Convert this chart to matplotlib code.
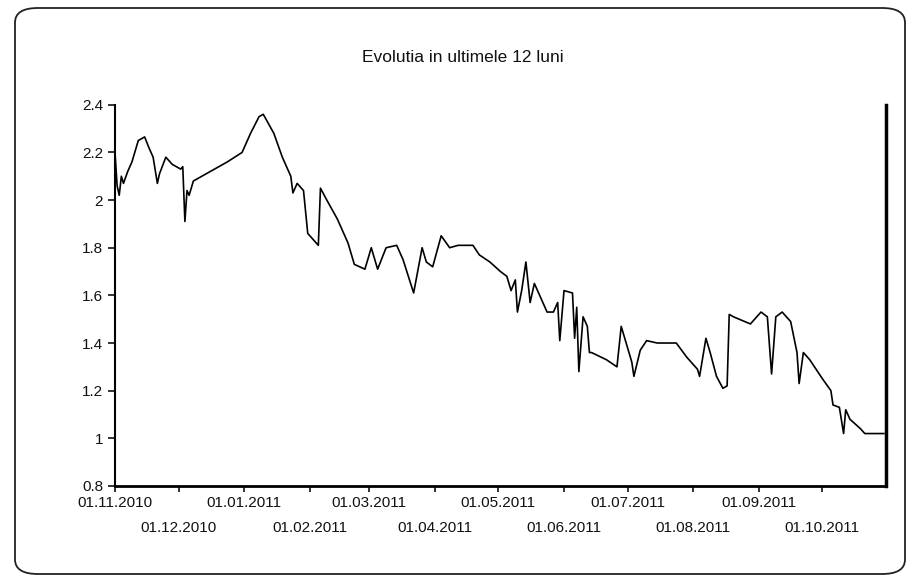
import matplotlib
matplotlib.use("Agg")
import matplotlib.pyplot as plt
from matplotlib.patches import FancyBboxPatch
import pandas as pd

plt.rcParams['font.family'] = ['Liberation Sans', 'DejaVu Sans']

# values
dates = [
    "2010-11-01", "2010-11-02", "2010-11-03", "2010-11-04", "2010-11-05",
    "2010-11-07", "2010-11-09", "2010-11-12", "2010-11-15", "2010-11-17",
    "2010-11-19", "2010-11-21", "2010-11-22", "2010-11-25", "2010-11-28",
    "2010-12-02", "2010-12-03", "2010-12-04", "2010-12-05", "2010-12-06",
    "2010-12-08", "2010-12-16", "2010-12-24", "2010-12-31", "2011-01-04",
    "2011-01-08", "2011-01-10", "2011-01-15", "2011-01-19", "2011-01-23",
    "2011-01-24", "2011-01-26", "2011-01-29", "2011-01-31", "2011-02-05",
    "2011-02-06", "2011-02-09", "2011-02-14", "2011-02-19", "2011-02-22",
    "2011-02-27", "2011-03-02", "2011-03-05", "2011-03-09", "2011-03-14",
    "2011-03-17", "2011-03-22", "2011-03-26", "2011-03-28", "2011-03-31",
    "2011-04-04", "2011-04-08", "2011-04-12", "2011-04-19", "2011-04-22",
    "2011-04-27", "2011-05-02", "2011-05-05", "2011-05-07", "2011-05-09",
    "2011-05-10", "2011-05-12", "2011-05-14", "2011-05-16", "2011-05-18",
    "2011-05-24", "2011-05-27", "2011-05-29", "2011-05-30", "2011-06-01",
    "2011-06-05", "2011-06-06", "2011-06-07", "2011-06-08", "2011-06-10",
    "2011-06-12", "2011-06-13", "2011-06-14", "2011-06-21", "2011-06-26",
    "2011-06-28", "2011-07-01", "2011-07-03", "2011-07-04", "2011-07-07",
    "2011-07-10", "2011-07-15", "2011-07-24", "2011-07-29", "2011-08-03",
    "2011-08-04", "2011-08-07", "2011-08-09", "2011-08-12", "2011-08-15",
    "2011-08-17", "2011-08-18", "2011-08-20", "2011-08-28", "2011-08-30",
    "2011-09-02", "2011-09-05", "2011-09-07", "2011-09-09", "2011-09-12",
    "2011-09-16", "2011-09-19", "2011-09-20", "2011-09-22", "2011-09-25",
    "2011-10-01", "2011-10-05", "2011-10-06", "2011-10-09", "2011-10-11",
    "2011-10-12", "2011-10-14", "2011-10-19", "2011-10-21", "2011-10-25",
    "2011-10-30",
]
values = [
    2.20, 2.06, 2.02, 2.10, 2.07,
    2.12, 2.16, 2.25, 2.265, 2.22,
    2.18, 2.07, 2.11, 2.18, 2.15,
    2.13, 2.14, 1.91, 2.04, 2.02,
    2.08, 2.12, 2.16, 2.20, 2.28,
    2.35, 2.36, 2.28, 2.18, 2.10,
    2.03, 2.07, 2.04, 1.86, 1.81,
    2.05, 2.00, 1.92, 1.82, 1.73,
    1.71, 1.80, 1.71, 1.80, 1.81,
    1.75, 1.61, 1.80, 1.74, 1.72,
    1.85, 1.80, 1.81, 1.81, 1.77,
    1.74, 1.70, 1.68, 1.62, 1.665,
    1.53, 1.62, 1.74, 1.57, 1.65,
    1.53, 1.53, 1.57, 1.41, 1.62,
    1.61, 1.42, 1.55, 1.28, 1.51,
    1.47, 1.36, 1.36, 1.33, 1.30,
    1.47, 1.38, 1.32, 1.26, 1.37,
    1.41, 1.40, 1.40, 1.34, 1.29,
    1.26, 1.42, 1.36, 1.26, 1.21,
    1.22, 1.52, 1.51, 1.48, 1.50,
    1.53, 1.51, 1.27, 1.51, 1.53,
    1.49, 1.36, 1.23, 1.36, 1.33,
    1.25, 1.20, 1.14, 1.13, 1.02,
    1.12, 1.08, 1.04, 1.02, 1.02,
    1.02,
]

month_ticks = pd.date_range("2010-11-01", "2011-10-01", freq="MS")
month_labels = [d.strftime("%d.%m.%Y") for d in month_ticks]
y_ticks = [0.8, 1.0, 1.2, 1.4, 1.6, 1.8, 2.0, 2.2, 2.4]
y_labels = ["0.8", "1", "1.2", "1.4", "1.6", "1.8", "2", "2.2", "2.4"]

x = pd.to_datetime(dates)

fig = plt.figure(figsize=(9.2, 5.82), dpi=100)

# rounded frame around the whole chart
frame = FancyBboxPatch((15 / 920, 8 / 582), 890 / 920, 566 / 582,
                       boxstyle="round,pad=0,rounding_size=0.025",
                       transform=fig.transFigure, fill=False,
                       edgecolor="#222222", linewidth=1.3)
fig.patches.append(frame)

ax = fig.add_axes([0.125, 0.165, 0.838, 0.655])
ax.plot(x, values, color="black", linewidth=1.2)

ax.set_xlim(pd.Timestamp("2010-11-01"), pd.Timestamp("2011-10-31"))
ax.set_ylim(0.8, 2.4)
ax.set_yticks(y_ticks)
ax.set_yticklabels(y_labels)

ax.set_xticks(month_ticks)
ax.set_xticklabels(month_labels)

ax.tick_params(axis="both", labelsize=11, colors="#111111", length=5, width=1.2)
ax.tick_params(axis="x", length=4, pad=3)

# every second month label goes on a lower row
for i, t in enumerate(ax.xaxis.get_major_ticks()):
    if i % 2 == 1:
        t.set_pad(21)

ax.spines["top"].set_visible(False)
ax.spines["left"].set_linewidth(1.5)
ax.spines["bottom"].set_linewidth(2.0)
ax.spines["right"].set_linewidth(2.5)

fig.text(0.503, 0.902, "Evolutia in ultimele 12 luni", ha="center", va="center",
         fontsize=12.5, color="#111111")

fig.savefig("out.png", dpi=100)
